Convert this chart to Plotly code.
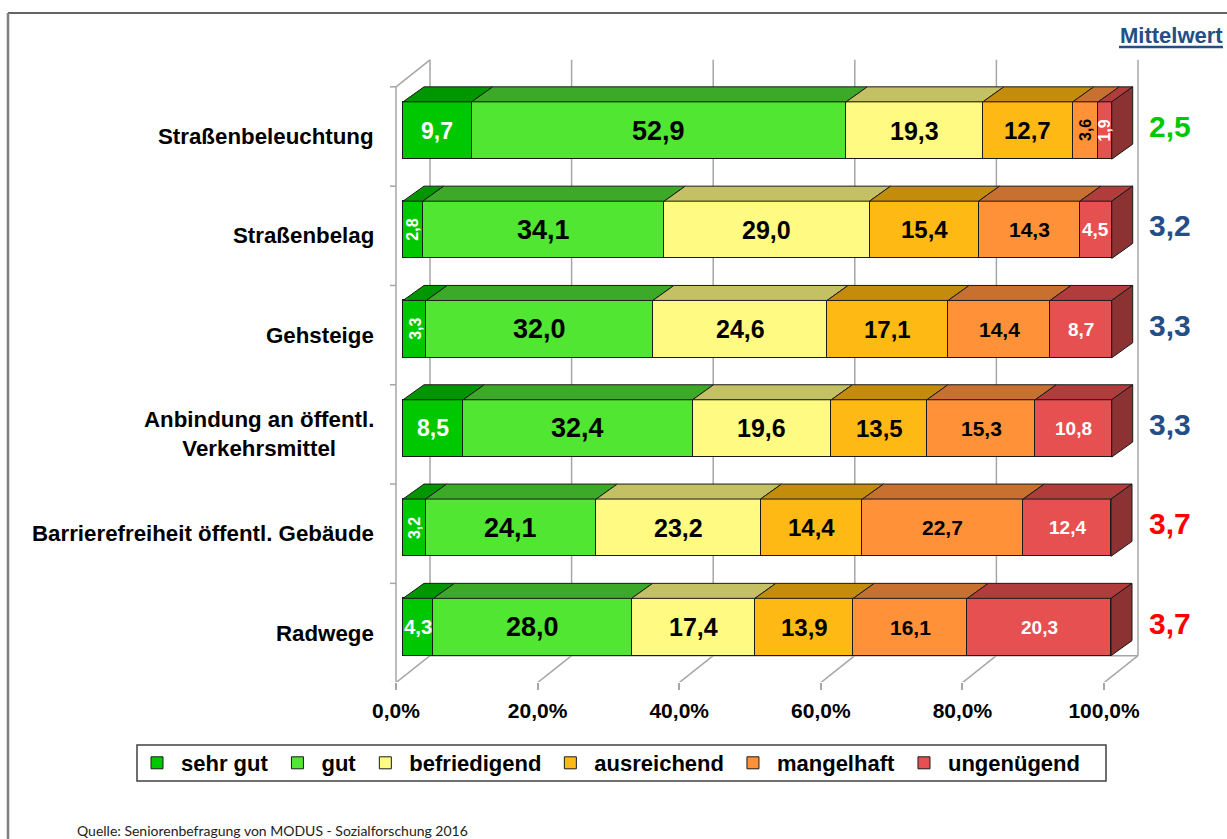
import plotly.graph_objects as go

# ---- data -------------------------------------------------------------
categories = [
    "Straßenbeleuchtung",
    "Straßenbelag",
    "Gehsteige",
    "Anbindung an öffentl.<br>Verkehrsmittel",
    "Barrierefreiheit öffentl. Gebäude",
    "Radwege",
]
ratings = ["sehr gut", "gut", "befriedigend", "ausreichend", "mangelhaft", "ungenügend"]

sehr_gut = [9.7, 2.8, 3.3, 8.5, 3.2, 4.3]
gut = [52.9, 34.1, 32.0, 32.4, 24.1, 28.0]
befriedigend = [19.3, 29.0, 24.6, 19.6, 23.2, 17.4]
ausreichend = [12.7, 15.4, 17.1, 13.5, 14.4, 13.9]
mangelhaft = [3.6, 14.3, 14.4, 15.3, 22.7, 16.1]
ungenuegend = [1.9, 4.5, 8.7, 10.8, 12.4, 20.3]

mittelwert = [2.5, 3.2, 3.3, 3.3, 3.7, 3.7]

tick_values = [0, 20, 40, 60, 80, 100]
tick_labels = ["0,0%", "20,0%", "40,0%", "60,0%", "80,0%", "100,0%"]

source_text = "Quelle: Seniorenbefragung von MODUS - Sozialforschung 2016"

series = [sehr_gut, gut, befriedigend, ausreichend, mangelhaft, ungenuegend]

# ---- styling ------------------------------------------------------------
FONT = "Liberation Sans, Arial, sans-serif"
front_colors = ["#00C800", "#50E632", "#FFFA82", "#FFB914", "#FF9138", "#E65050"]
top_colors = ["#009600", "#3CAA28", "#C4C064", "#C38C0A", "#C87030", "#B03C3C"]
side_color = "#8C3232"
label_colors = ["white", "black", "black", "black", "black", "white"]
label_sizes = [23, 27, 25, 24, 21, 19]
edge_color = "#1a1a1a"
frame_color = "#A6A6A6"
navy = "#244E86"

# ---- canvas / projection -----------------------------------------------
W, H = 1227, 839
PL, PR, PT, PB = 380, 1145, 50, 682        # plot area in pixels
X0_PX, PX_PER_PCT = 403.0, 7.08             # bar front plane: 0 % position, px per %
ROW0_PX, PX_PER_ROW = 130.5, 99.3           # centre of first row, px per row

BAR_W = 57.3 / PX_PER_ROW                   # bar thickness in row units
BAR_DX, BAR_DY = 21 / PX_PER_PCT, -15 / PX_PER_ROW      # bar depth
FRONT_DX, FRONT_DY = -7 / PX_PER_PCT, 6 / PX_PER_ROW    # frame front plane
BACK_DX, BACK_DY = 27 / PX_PER_PCT, FRONT_DY - 27 / PX_PER_ROW  # back wall

x_range = [(PL - X0_PX) / PX_PER_PCT, (PR - X0_PX) / PX_PER_PCT]
y_range = [(PB - ROW0_PX) / PX_PER_ROW, (PT - ROW0_PX) / PX_PER_ROW]


def px_x(p):
    return (p - PL) / (PR - PL)


def px_y(p):
    return (PB - p) / (PB - PT)


n = len(categories)
rows = list(range(n))

fig = go.Figure()

# front faces: stacked horizontal bars
for i, (name, vals) in enumerate(zip(ratings, series)):
    fig.add_trace(go.Bar(
        y=rows, x=vals, name=name, orientation="h", width=BAR_W,
        marker=dict(color=front_colors[i], line=dict(color=edge_color, width=1)),
        hoverinfo="skip",
    ))

# top faces (and the right side face) built from the cumulative values
cum = [[0.0] * n]
for vals in series:
    cum.append([c + v for c, v in zip(cum[-1], vals)])

for i in range(len(series)):
    xs, ys = [], []
    for r in rows:
        s, e = cum[i][r], cum[i + 1][r]
        yt = r - BAR_W / 2
        xs += [s, e, e + BAR_DX, s + BAR_DX, s, None]
        ys += [yt, yt, yt + BAR_DY, yt + BAR_DY, yt, None]
    fig.add_trace(go.Scatter(
        x=xs, y=ys, mode="lines", fill="toself", fillcolor=top_colors[i],
        line=dict(color=edge_color, width=1), showlegend=False, hoverinfo="skip",
    ))

xs, ys = [], []
for r in rows:
    e = cum[-1][r]
    yt, yb = r - BAR_W / 2, r + BAR_W / 2
    xs += [e, e + BAR_DX, e + BAR_DX, e, e, None]
    ys += [yt, yt + BAR_DY, yb + BAR_DY, yb, yt, None]
fig.add_trace(go.Scatter(
    x=xs, y=ys, mode="lines", fill="toself", fillcolor=side_color,
    line=dict(color=edge_color, width=1), showlegend=False, hoverinfo="skip",
))

# helper trace carrying the front-plane percentage axis
fig.add_trace(go.Scatter(x=[tick_values[0], tick_values[-1]], y=[0, 0], xaxis="x2",
                         mode="markers", marker=dict(opacity=0), showlegend=False,
                         hoverinfo="skip"))

# ---- frame: floor, walls, gridlines ------------------------------------
shapes = []
line = dict(color=frame_color, width=1.5)
f_top, f_bot = -0.5 + FRONT_DY, n - 0.5 + FRONT_DY
b_top, b_bot = -0.5 + BACK_DY, n - 0.5 + BACK_DY
lo, hi = tick_values[0], tick_values[-1]

for v in tick_values:
    shapes.append(dict(type="line", xref="x", yref="y", x0=v + BACK_DX, x1=v + BACK_DX,
                       y0=b_bot, y1=b_top, line=line, layer="below"))
    shapes.append(dict(type="line", xref="x", yref="y", x0=v + FRONT_DX, x1=v + BACK_DX,
                       y0=f_bot, y1=b_bot, line=line, layer="below"))
shapes.append(dict(type="line", xref="x", yref="y", x0=lo + FRONT_DX, x1=hi + FRONT_DX,
                   y0=f_bot, y1=f_bot, line=line, layer="below"))
shapes.append(dict(type="line", xref="x", yref="y", x0=lo + BACK_DX, x1=hi + BACK_DX,
                   y0=b_bot, y1=b_bot, line=line, layer="below"))
shapes.append(dict(type="line", xref="x", yref="y", x0=lo + FRONT_DX, x1=lo + FRONT_DX,
                   y0=f_top, y1=f_bot, line=line, layer="below"))
shapes.append(dict(type="line", xref="x", yref="y", x0=lo + FRONT_DX, x1=lo + BACK_DX,
                   y0=f_top, y1=b_top, line=line, layer="below"))
for k in range(n + 1):
    yb = k - 0.5 + FRONT_DY
    shapes.append(dict(type="line", xref="x", yref="y", x0=lo + FRONT_DX - 6 / PX_PER_PCT,
                       x1=lo + FRONT_DX, y0=yb, y1=yb, line=line, layer="below"))

# legend box, header underline and outer border
shapes.append(dict(type="rect", xref="paper", yref="paper",
                   x0=px_x(137), x1=px_x(1106), y0=px_y(745), y1=px_y(781),
                   line=dict(color="#404040", width=1.5), layer="below"))
shapes.append(dict(type="line", xref="paper", yref="paper", x0=px_x(1119), x1=px_x(1223),
                   y0=px_y(47), y1=px_y(47), line=dict(color=navy, width=2.5)))
shapes.append(dict(type="line", xref="paper", yref="paper", x0=px_x(8), x1=px_x(W + 5),
                   y0=px_y(13), y1=px_y(13), line=dict(color="#303030", width=1.5)))
shapes.append(dict(type="line", xref="paper", yref="paper", x0=px_x(8), x1=px_x(8),
                   y0=px_y(13), y1=px_y(H + 5), line=dict(color="#7F7F7F", width=2.5)))

# ---- annotations --------------------------------------------------------
ann = []
for i, vals in enumerate(series):
    for r in rows:
        v = vals[r]
        txt = f"{v:.1f}".replace(".", ",")
        seg_px = v * PX_PER_PCT
        rotate = v < 4.0
        if rotate:
            size = 16
        else:
            size = min(label_sizes[i], seg_px / 1.5)
        ann.append(dict(x=cum[i][r] + v / 2, y=r, xref="x", yref="y", text=f"<b>{txt}</b>",
                        xanchor="center", yanchor="middle",
                        showarrow=False, textangle=-90 if rotate else 0,
                        font=dict(family=FONT, size=size, color=label_colors[i])))

for r, cat in enumerate(categories):
    ann.append(dict(x=px_x(376), y=r + FRONT_DY, xref="paper", yref="y", xanchor="right",
                    yanchor="middle", align="center", text=f"<b>{cat}</b>", showarrow=False,
                    font=dict(family=FONT, size=22.3, color="black")))


def mean_color(m):
    if m < 3.0:
        return "#00C800"
    if m < 3.5:
        return navy
    return "#FF0000"


for r, m in enumerate(mittelwert):
    ann.append(dict(x=px_x(1170), y=r, xref="paper", yref="y", yshift=4,
                    xanchor="center", yanchor="middle",
                    text=f"<b>{m:.1f}</b>".replace(".", ","), showarrow=False,
                    font=dict(family=FONT, size=30, color=mean_color(m))))

ann.append(dict(x=px_x(1171), y=px_y(35), xref="paper", yref="paper",
                xanchor="center", yanchor="middle",
                text="<b>Mittelwert</b>", showarrow=False,
                font=dict(family=FONT, size=22, color=navy)))

ann.append(dict(x=px_x(75), y=px_y(830), xref="paper", yref="paper", xanchor="left",
                yanchor="middle", text=source_text, showarrow=False,
                font=dict(family="Lato, Open Sans, sans-serif", size=14, color="#222222")))

# ---- layout -------------------------------------------------------------
fig.update_layout(
    width=W, height=H,
    margin=dict(l=PL, r=W - PR, t=PT, b=H - PB, pad=0),
    paper_bgcolor="white", plot_bgcolor="rgba(0,0,0,0)",
    barmode="stack", bargap=0,
    hovermode=False,
    showlegend=True,
    legend=dict(orientation="h", x=px_x(133), xanchor="left", y=px_y(763), yanchor="middle",
                font=dict(family=FONT, size=22, color="black", weight="bold"),
                bgcolor="rgba(0,0,0,0)", traceorder="normal", itemwidth=38),
    xaxis=dict(range=x_range, showgrid=False, zeroline=False, showline=False,
               showticklabels=False, ticks="", fixedrange=True),
    xaxis2=dict(range=[r - FRONT_DX for r in x_range], overlaying="x", side="bottom",
                showgrid=False, zeroline=False, showline=False,
                tickmode="array", tickvals=tick_values, ticktext=tick_labels,
                ticks="outside", ticklen=7, tickcolor=frame_color, tickwidth=1.5,
                ticklabelstandoff=3,
                tickfont=dict(family=FONT, size=21, color="black", weight="bold")),
    yaxis=dict(range=y_range, showgrid=False, zeroline=False, showline=False,
               showticklabels=False, ticks="", fixedrange=True),
    shapes=shapes,
    annotations=ann,
)

fig.write_html("out.html")
